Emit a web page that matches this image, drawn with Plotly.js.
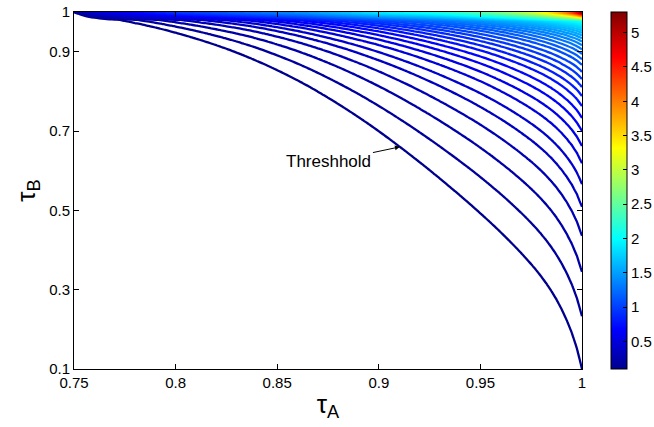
<!DOCTYPE html>
<html>
<head>
<meta charset="utf-8">
<script src="https://cdn.plot.ly/plotly-3.0.1.min.js"></script>
<style>
  html, body { margin: 0; padding: 0; background: #fff; }
  #chart { width: 654px; height: 427px; }
</style>
</head>
<body>
<div id="chart"></div>
<script>
// ---- data ----
// columns (tau_A) at which the curves were read
const tauA = [0.75, 0.7625, 0.775, 0.7875, 0.8, 0.8125, 0.825, 0.8375, 0.85, 0.8625, 0.875, 0.8875, 0.9, 0.9125, 0.925, 0.9375, 0.95, 0.9625, 0.975, 0.98125, 0.9875, 0.99375, 0.9975, 1];
// tau_B of the threshold (lowest) contour at each tau_A column
const thresholdTauB = [1, 0.9892, 0.9775, 0.964, 0.9478, 0.9289, 0.9073, 0.8821, 0.8533, 0.8209, 0.784, 0.7435, 0.6994, 0.6517, 0.6013, 0.5482, 0.4924, 0.4321, 0.3642, 0.3241, 0.2746, 0.2076, 0.1516, 0.1];
// how widely the contour lines fan out at each tau_A column (1 at tau_A = 1)
const spreadWeight = [0.366, 0.387, 0.408, 0.429, 0.450, 0.471, 0.492, 0.513, 0.544, 0.576, 0.607, 0.639, 0.670, 0.701, 0.734, 0.768, 0.805, 0.848, 0.895, 0.920, 0.946, 0.972, 0.987, 1];
// value reached on the top edge (tau_B = 1) at each tau_A column
const topEdgeZ = [0.2, 0.55, 0.7, 0.85, 1.0, 1.1, 1.2, 1.3, 1.4, 1.5, 1.65, 1.8, 1.95, 2.05, 2.15, 2.3, 2.5, 2.75, 3.1, 3.35, 3.7, 4.2, 4.7, 5.3];
// tau_B where successive contour lines meet the right edge (tau_A = 1)
const rightEdgeTauB = [0.1, 0.233, 0.345, 0.436, 0.509, 0.566, 0.619, 0.662, 0.700, 0.733, 0.763, 0.788, 0.811, 0.831, 0.849, 0.867, 0.881, 0.894, 0.906];
// contour levels
const levelStart = 0.165, levelStep = 0.065, levelEnd = 5.3;
// colour bar
const colorMin = 0.1, colorMax = 5.3;
const colorTicks = [0.5, 1, 1.5, 2, 2.5, 3, 3.5, 4, 4.5, 5];
const colorTickText = ['0.5', '1', '1.5', '2', '2.5', '3', '3.5', '4', '4.5', '5'];
const xTicks = [0.75, 0.8, 0.85, 0.9, 0.95, 1];
const xTickText = ['0.75', '0.8', '0.85', '0.9', '0.95', '1'];
const yTicks = [0.1, 0.3, 0.5, 0.7, 0.9, 1];
const yTickText = ['0.1', '0.3', '0.5', '0.7', '0.9', '1'];

// ---- build the z table the contour trace needs from the arrays above ----
function pchip(xs, ys) {
  const n = xs.length, h = [], d = [], m = new Array(n);
  for (let i = 0; i < n - 1; i++) { h[i] = xs[i + 1] - xs[i]; d[i] = (ys[i + 1] - ys[i]) / h[i]; }
  m[0] = d[0]; m[n - 1] = d[n - 2];
  for (let i = 1; i < n - 1; i++) {
    if (d[i - 1] * d[i] <= 0) m[i] = 0;
    else { const w1 = 2 * h[i] + h[i - 1], w2 = h[i] + 2 * h[i - 1]; m[i] = (w1 + w2) / (w1 / d[i - 1] + w2 / d[i]); }
  }
  return x => {
    let i = 0;
    while (i < n - 2 && x > xs[i + 1]) i++;
    const t = (x - xs[i]) / h[i], t2 = t * t, t3 = t2 * t;
    return (2 * t3 - 3 * t2 + 1) * ys[i] + (t3 - 2 * t2 + t) * h[i] * m[i] + (-2 * t3 + 3 * t2) * ys[i + 1] + (t3 - t2) * h[i] * m[i + 1];
  };
}
const depthAt = pchip(tauA, thresholdTauB.map(t => 1 - t));
const weightAt = pchip(tauA, spreadWeight);
const topAt = pchip(tauA, topEdgeZ);

const base = 1 - rightEdgeTauB[0];
const Lk = rightEdgeTauB.map(t => -Math.log((1 - t) / base));
const nK = Lk.length - 1;
const tailStep = (Lk[nK] - Lk[nK - 6]) / 6;
function levelIndex(L) {
  if (L <= 0) return L / Lk[1];
  for (let k = 1; k <= nK; k++) {
    if (L <= Lk[k]) return (k - 1) + (L - Lk[k - 1]) / (Lk[k] - Lk[k - 1]);
  }
  return nK + (L - Lk[nK]) / tailStep;
}

const gridA = [], gridB = [];
for (let i = 0; i <= 100; i++) gridA.push(0.75 + 0.0025 * i);
for (let j = 0; j <= 176; j++) gridB.push(0.1 + 0.005 * j);
gridB.push(1);
const z = gridB.map(b => gridA.map(a => {
  if (b >= 1) return topAt(a);
  const depth = depthAt(a);
  if (depth <= 1e-6) return levelStart - 1;
  const L = weightAt(a) * (Math.log(depth) - Math.log(1 - b));
  return Math.max(levelStart - 1, levelStart + levelStep * levelIndex(L));
}));

const jet = [
  [0, 'rgb(0,0,143)'],
  [0.1111, 'rgb(0,0,255)'],
  [0.3651, 'rgb(0,255,255)'],
  [0.6190, 'rgb(255,255,0)'],
  [0.8730, 'rgb(255,0,0)'],
  [1, 'rgb(128,0,0)']
];
const FONT = 'Liberation Sans, Arial, Helvetica, sans-serif';

const traces = [
  {
    type: 'contour',
    x: gridA, y: gridB, z: z,
    autocontour: false,
    contours: { start: levelStart, end: levelEnd, size: levelStep, coloring: 'lines', showlabels: false },
    colorscale: jet,
    zauto: false, zmin: colorMin, zmax: colorMax,
    line: { width: 2.3, smoothing: 1 },
    showscale: false,
    hoverinfo: 'skip'
  },
  {
    type: 'scatter', mode: 'markers',
    x: [0.5], y: [0.5],
    hoverinfo: 'skip', showlegend: false,
    marker: {
      color: [1], colorscale: jet, cmin: colorMin, cmax: colorMax, showscale: true, size: 1,
      colorbar: {
        x: 1.057, xanchor: 'left', xref: 'paper',
        y: 0.5, yanchor: 'middle', len: 1, lenmode: 'fraction',
        thickness: 16, thicknessmode: 'pixels',
        outlinewidth: 1, outlinecolor: '#000', borderwidth: 0,
        tickvals: colorTicks, ticktext: colorTickText,
        ticks: 'inside', ticklen: 4, tickcolor: '#000', tickwidth: 1,
        tickfont: { family: FONT, size: 15, color: '#000' },
        xpad: 0, ypad: 0
      }
    }
  }
];

const layout = {
  width: 654, height: 427,
  margin: { l: 74, r: 72, t: 12, b: 58, pad: 0, autoexpand: false },
  paper_bgcolor: '#fff', plot_bgcolor: '#fff',
  showlegend: false,
  font: { family: FONT, size: 15, color: '#000' },
  xaxis: {
    range: [0.75, 1], tickvals: xTicks, ticktext: xTickText,
    ticks: 'inside', ticklen: 5, tickwidth: 1, tickcolor: '#000',
    showline: true, linecolor: '#000', linewidth: 1, mirror: 'allticks',
    showgrid: false, zeroline: false,
    tickfont: { family: FONT, size: 15, color: '#000' },
    title: { text: 'τ<sub>A</sub>', font: { family: FONT, size: 26, color: '#000' }, standoff: 4 }
  },
  yaxis: {
    range: [0.1, 1], tickvals: yTicks, ticktext: yTickText,
    ticks: 'inside', ticklen: 5, tickwidth: 1, tickcolor: '#000',
    showline: true, linecolor: '#000', linewidth: 1, mirror: 'allticks',
    showgrid: false, zeroline: false,
    tickfont: { family: FONT, size: 15, color: '#000' },
    title: { text: 'τ<sub>B</sub>', font: { family: FONT, size: 26, color: '#000' }, standoff: 6 }
  },
  annotations: [{
    x: 0.9104, y: 0.6600, xref: 'x', yref: 'y',
    text: 'Threshhold', showarrow: true,
    ax: -71, ay: 15,
    arrowhead: 2, arrowsize: 1, arrowwidth: 1, arrowcolor: '#000',
    font: { family: FONT, size: 17, color: '#000' }
  }]
};

Plotly.newPlot('chart', traces, layout, { displayModeBar: false, staticPlot: true });
</script>
</body>
</html>
